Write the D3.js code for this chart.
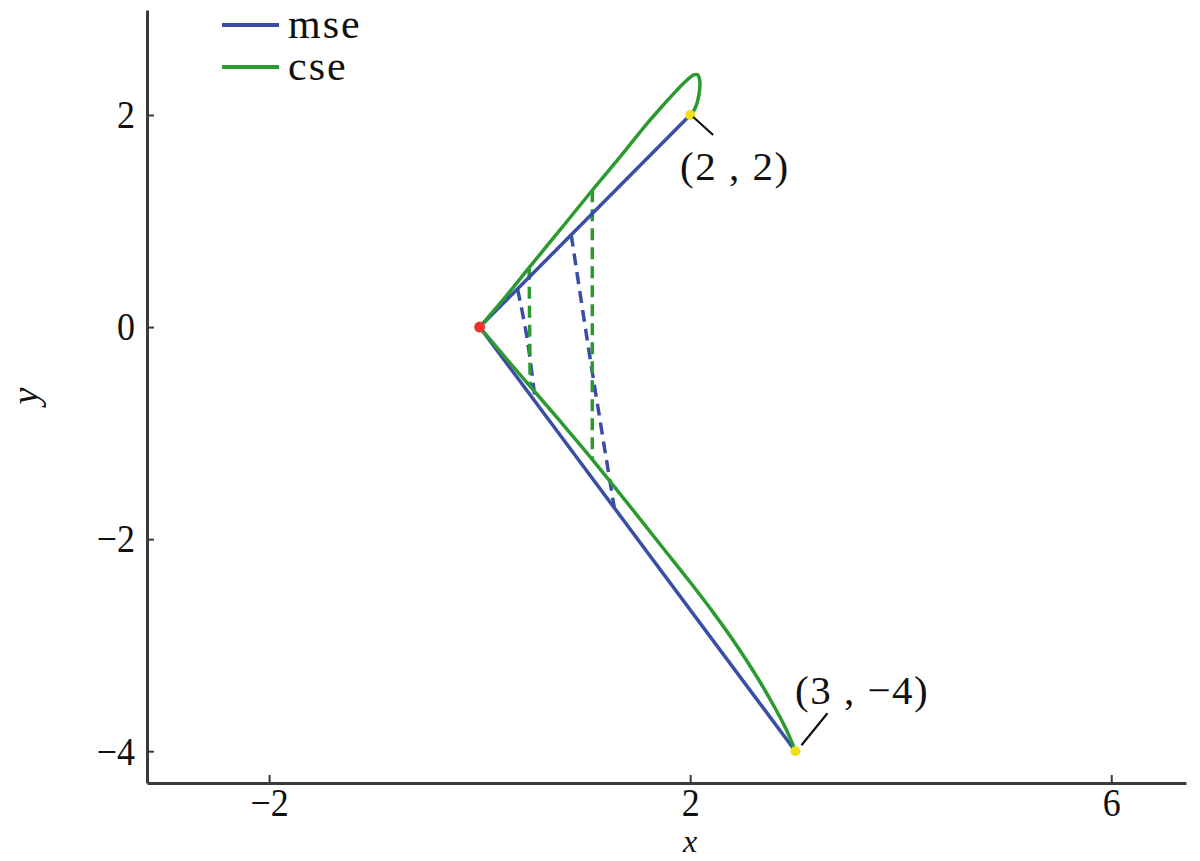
<!DOCTYPE html>
<html><head><meta charset="utf-8">
<script src="https://cdn.jsdelivr.net/npm/d3@7"></script>
<style>html,body{margin:0;padding:0;background:#fff;}svg{display:block;}</style>
</head><body>
<svg id="chart" width="1200" height="861"></svg>
<script>
// ---- data ----
const xTicks = [-2, 2, 6];
const yTicks = [-4, -2, 0, 2];
const mseUpper = [[0, 0], [2, 2]];
const mseLower = [[0, 0], [3, -4]];
const cseUpper = [[0,0],[0.25,0.29],[0.47,0.56],[0.8,0.96],[1.07,1.29],[1.33,1.6],[1.6,1.93],[1.75,2.1],[1.87,2.23],[1.96,2.32],[2.03,2.375],[2.07,2.38],[2.09,2.33],[2.09,2.24],[2.07,2.13],[2.04,2.05],[2,2]];
const cseLower = [[0,0],[0.255,-0.3],[0.515,-0.6],[0.775,-0.9],[1.03,-1.2],[1.275,-1.5],[1.515,-1.8],[1.755,-2.1],[1.995,-2.4],[2.225,-2.7],[2.44,-3.0],[2.635,-3.3],[2.81,-3.6],[2.915,-3.8],[3,-4]];
const mseDashed = [
  [[0.36,0.36],[0.45,-0.1],[0.53,-0.71]],
  [[0.87,0.87],[1.05,-0.3],[1.28,-1.71]]
];
const cseDashed = [
  [[0.47,0.56],[0.48,-0.56]],
  [[1.07,1.29],[1.07,-1.25]]
];
const startPoint = [0, 0];
const endPoints = [[2, 2], [3, -4]];
const endLabels = ["(2 , 2)", "(3 , \u22124)"];
const seriesNames = ["mse", "cse"];
const seriesColors = ["#3a4ea6", "#2b9a2f"];

// ---- chart ----
const svg = d3.select("#chart");
const x = d3.scaleLinear().domain([-3.16, 6.71]).range([147, 1186]);
const y = d3.scaleLinear().domain([-4.30, 2.99]).range([783, 10]);
const font = "'Liberation Serif','Times New Roman',Times,serif";
const fmt = d => d < 0 ? "\u2212" + Math.abs(d) : d;

const line = d3.line().x(d => x(d[0])).y(d => y(d[1]));
const smooth = d3.line().x(d => x(d[0])).y(d => y(d[1])).curve(d3.curveCatmullRom.alpha(0.5));

// axes
const xAxis = svg.append("g").attr("transform", `translate(0,${y.range()[0]})`)
  .call(d3.axisBottom(x).tickValues(xTicks).tickSizeInner(-8).tickSizeOuter(0).tickPadding(5).tickFormat(fmt));
const yAxis = svg.append("g").attr("transform", `translate(${x.range()[0]},0)`)
  .call(d3.axisLeft(y).tickValues(yTicks).tickSizeInner(-7).tickSizeOuter(0).tickPadding(11).tickFormat(fmt));
[xAxis, yAxis].forEach(g => {
  g.select(".domain").attr("stroke", "#3a3a3a").attr("stroke-width", 3);
  g.selectAll(".tick line").attr("stroke", "#3a3a3a").attr("stroke-width", 2);
  g.selectAll(".tick text").attr("fill", "#111").style("font-family", font).style("font-size", "40px")
    .attr("transform", "scale(0.9,1)");
});
xAxis.selectAll(".tick text").attr("dy", "0.71em");
yAxis.selectAll(".tick text").attr("x", -12 / 0.9);

svg.append("text").attr("x", x(2)).attr("y", 852).attr("text-anchor", "middle")
  .style("font-family", font).style("font-style", "italic").style("font-size", "32px").attr("fill", "#111").text("x");
svg.append("text").attr("transform", `translate(38,${y(-0.65)}) rotate(-90)`).attr("text-anchor", "middle")
  .style("font-family", font).style("font-style", "italic").style("font-size", "38px").attr("fill", "#111").text("y");

// dashed
mseDashed.forEach(seg => svg.append("path").attr("d", smooth(seg)).attr("fill", "none")
  .attr("stroke", seriesColors[0]).attr("stroke-width", 3.5).attr("stroke-dasharray", "12,7"));
cseDashed.forEach(seg => svg.append("path").attr("d", line(seg)).attr("fill", "none")
  .attr("stroke", seriesColors[1]).attr("stroke-width", 3.5).attr("stroke-dasharray", "12,7"));

// solid paths
[mseUpper, mseLower].forEach(p => svg.append("path").attr("d", line(p)).attr("fill", "none")
  .attr("stroke", seriesColors[0]).attr("stroke-width", 3.5));
[cseUpper, cseLower].forEach(p => svg.append("path").attr("d", smooth(p)).attr("fill", "none")
  .attr("stroke", seriesColors[1]).attr("stroke-width", 3.5).attr("stroke-linejoin", "round"));

// points
svg.append("circle").attr("cx", x(startPoint[0])).attr("cy", y(startPoint[1])).attr("r", 5.5).attr("fill", "#ee3333");
endPoints.forEach(p => svg.append("circle").attr("cx", x(p[0])).attr("cy", y(p[1])).attr("r", 5).attr("fill", "#f0e020"));

// annotations
const ann = [
  {p: endPoints[0], lx1: 3, ly1: 2, lx2: 23, ly2: 20, tx: 680, ty: 180},
  {p: endPoints[1], lx1: 6, ly1: -6, lx2: 32, ly2: -38, tx: 795, ty: 704}
];
ann.forEach((a, i) => {
  svg.append("line").attr("x1", x(a.p[0]) + a.lx1).attr("y1", y(a.p[1]) + a.ly1)
    .attr("x2", x(a.p[0]) + a.lx2).attr("y2", y(a.p[1]) + a.ly2).attr("stroke", "#111").attr("stroke-width", 2.2);
  svg.append("text").attr("x", a.tx).attr("y", a.ty).style("font-family", font).style("font-size", "41px")
    .style("letter-spacing", "1.5px").attr("fill", "#111").text(endLabels[i]);
});

// legend
seriesNames.forEach((n, i) => {
  const ly = 25 + i * 42;
  svg.append("line").attr("x1", 222).attr("x2", 279).attr("y1", ly).attr("y2", ly)
    .attr("stroke", seriesColors[i]).attr("stroke-width", 4);
  svg.append("text").attr("x", 288).attr("y", ly + 13).style("font-family", font).style("font-size", "42px")
    .style("letter-spacing", "2px").attr("fill", "#111").text(n);
});
</script>
</body></html>
